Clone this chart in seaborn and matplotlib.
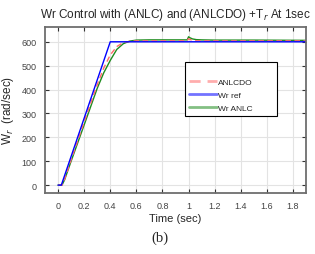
import matplotlib
matplotlib.use("Agg")
import matplotlib.pyplot as plt
import seaborn as sns
import pandas as pd

# Data
t_ref = [0, 0.025, 0.40, 1.9]
w_ref = [0, 0, 600, 600]

t_anlc = [0, 0.03, 0.05, 0.10, 0.20, 0.30, 0.35, 0.40, 0.45, 0.50, 0.55, 0.60, 0.70,
          0.80, 0.90, 0.99, 1.00, 1.01, 1.03, 1.06, 1.10, 1.20, 1.50, 1.9]
w_anlc = [0, 0, 22, 100, 252, 405, 470, 522, 568, 592, 603, 607, 608,
          608, 608, 608, 621, 617, 612, 609, 608, 607, 607, 606]

t_do = [0, 0.03, 0.05, 0.10, 0.20, 0.30, 0.35, 0.40, 0.45, 0.50, 0.55, 0.60, 0.70,
        0.80, 0.90, 0.99, 1.00, 1.01, 1.03, 1.06, 1.10, 1.20, 1.50, 1.9]
w_do = [0, 0, 24, 106, 264, 420, 490, 545, 580, 597, 602, 604, 604,
        604, 604, 604, 613, 610, 606, 604, 604, 604, 604, 604]

x_ticks = [0, 0.2, 0.4, 0.6, 0.8, 1, 1.2, 1.4, 1.6, 1.8]
y_ticks = [0, 100, 200, 300, 400, 500, 600]

sns.set_theme(style="whitegrid")
plt.rcParams['font.family'] = ['Liberation Sans', 'DejaVu Sans']

fig = plt.figure(figsize=(3.15, 2.55), dpi=100)
ax = fig.add_axes([45/315, 1 - 194/255, (306-45)/315, (194-27.5)/255])

sns.lineplot(x=t_anlc, y=w_anlc, ax=ax, color="#1e8c1e", lw=1.0, label="Wr ANLC")
sns.lineplot(x=t_do, y=w_do, ax=ax, color="#ff6a6a", lw=1.0, ls=(0, (4, 2.5)), label="ANLCDO")
sns.lineplot(x=t_ref, y=w_ref, ax=ax, color="#0000ff", lw=1.0, label="Wr ref")

ax.set_xlim(-0.1, 1.9)
ax.set_ylim(-33, 664)
ax.set_xticks(x_ticks)
ax.set_xticklabels([f"{v:g}" for v in x_ticks])
ax.set_yticks(y_ticks)
ax.grid(True, color="#e3e3e3", lw=0.8)
for s in ax.spines.values():
    s.set_visible(True)
    s.set_color("#6e6e6e")
    s.set_linewidth(1.3)
ax.tick_params(direction="in", length=3, width=0.8, colors="#333333",
               labelsize=6.5, labelcolor="#444444", top=True, right=True,
               bottom=True, left=True, pad=6)

ax.set_xlabel("Time (sec)", fontsize=8, labelpad=2)
ax.set_ylabel("W$_r$  (rad/sec)", fontsize=8.5, labelpad=4)
ax.set_title("Wr Control with (ANLC) and (ANLCDO) +T$_r$ At 1sec", fontsize=8.5, pad=7)

handles, labels = ax.get_legend_handles_labels()
order = [labels.index("ANLCDO"), labels.index("Wr ref"), labels.index("Wr ANLC")]
ax_w = 261.0
ax_h = 166.5
leg = ax.legend([handles[i] for i in order], [labels[i] for i in order],
                loc="upper left",
                bbox_to_anchor=((185-45)/ax_w, (194-116.7)/ax_h, (277-185)/ax_w, (116.7-63.3)/ax_h),
                mode="expand",
                fontsize=6, title=" ", title_fontsize=6, frameon=True, fancybox=False,
                edgecolor="black", framealpha=1, handlelength=3.3, handletextpad=0.1,
                labelspacing=0.6, borderpad=0.5, borderaxespad=0)
leg.get_frame().set_linewidth(0.8)
leg._legend_box.align = "left"
for lh in leg.get_lines():
    lh.set_alpha(0.55)
    lh.set_linewidth(2)

fig.text(160/315, 1 - 238/255, "(b)", ha="center", va="center", fontsize=10.5,
         family="Liberation Serif")

fig.savefig("out.png", dpi=100)
